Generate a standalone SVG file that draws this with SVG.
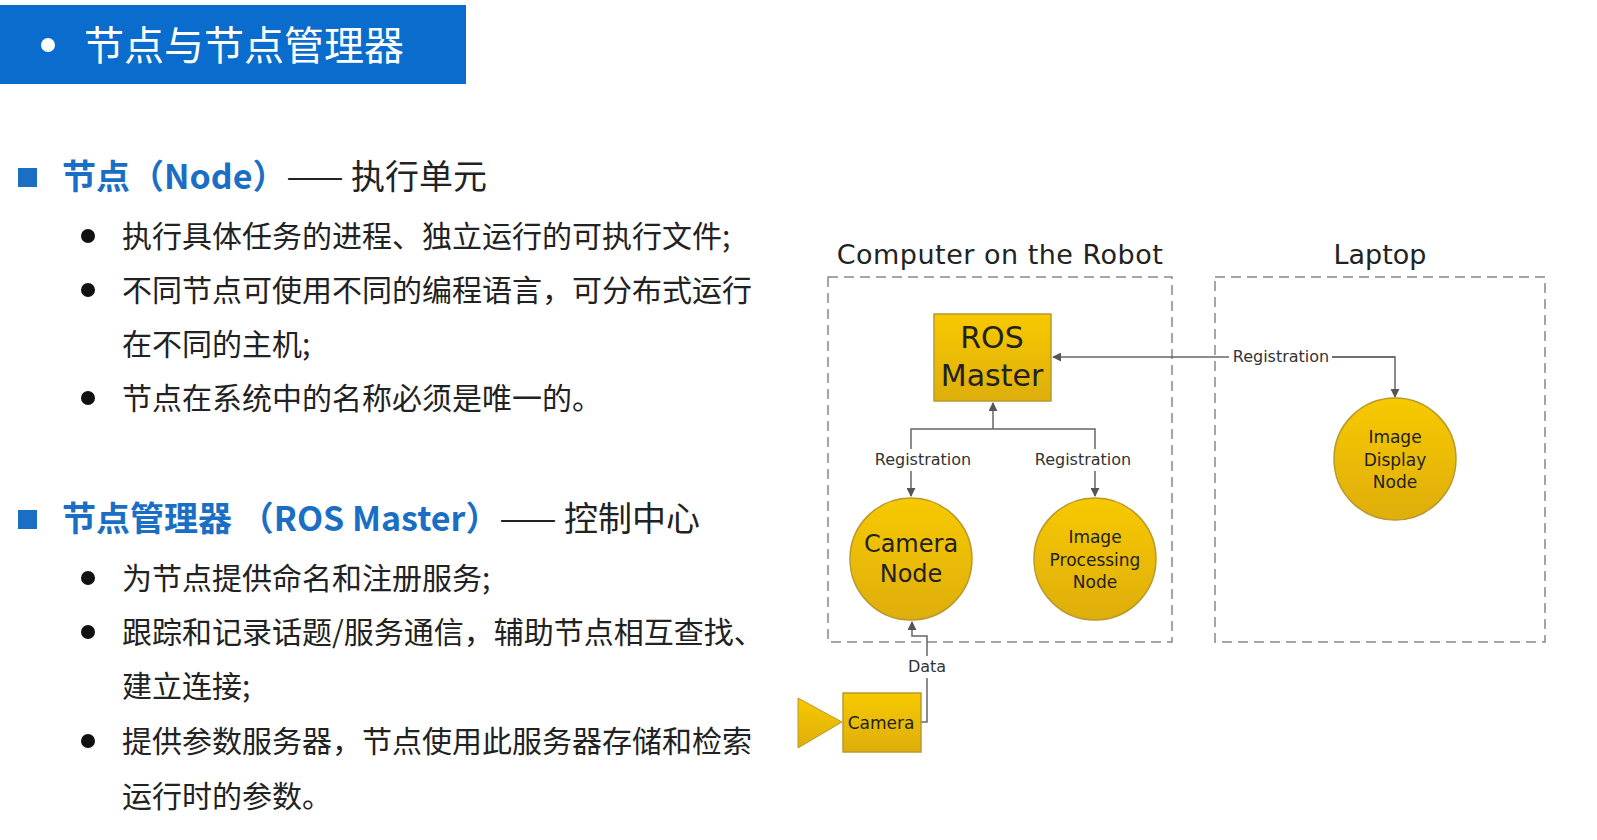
<svg xmlns="http://www.w3.org/2000/svg" width="1597" height="840" viewBox="0 0 1597 840">
<defs>
<linearGradient id="g" x1="0" y1="0" x2="0" y2="1"><stop offset="0" stop-color="#f7c900"/><stop offset="1" stop-color="#deae0c"/></linearGradient>
<marker id="a" viewBox="0 0 10 10" refX="9" refY="5" markerWidth="9" markerHeight="9" orient="auto" markerUnits="userSpaceOnUse"><path d="M0,0 L10,5 L0,10 z" fill="#555"/></marker>
</defs>
<style>
.cn{font-family:"Noto Sans CJK SC","Noto Sans",sans-serif;}
.b{font-size:30px;fill:#222;}
.h{font-size:34px;font-weight:bold;fill:#1a6fc4;}
.d{font-family:"DejaVu Sans","Noto Sans",sans-serif;fill:#222;text-anchor:middle;}
.n{fill:url(#g);stroke:#b89a2a;stroke-width:1.5;}
.c{fill:none;stroke:#666;stroke-width:1.5;}
.dash{fill:none;stroke:#888;stroke-width:1.5;stroke-dasharray:10,6;}
.l{font-family:"DejaVu Sans",sans-serif;font-size:16px;fill:#333;text-anchor:middle;}
</style>
<rect width="1597" height="840" fill="#fff"/>
<rect x="0" y="5" width="466" height="79" fill="#0a6ccc"/>
<circle cx="48" cy="45" r="7" fill="#fff"/>
<text x="84" y="60" class="cn" font-size="40" fill="#fff">节点与节点管理器</text>
<rect x="18" y="168" width="19" height="19" fill="#1a6fc4"/>
<text x="62" y="189" class="cn h">节点（Node）<tspan fill="#222" font-weight="normal">—— 执行单元</tspan></text>
<rect x="18" y="510" width="19" height="19" fill="#1a6fc4"/>
<text x="62" y="531" class="cn h">节点管理器 （ROS Master）<tspan fill="#222" font-weight="normal">—— 控制中心</tspan></text>
<g fill="#111"><circle cx="88" cy="236" r="7"/><circle cx="88" cy="290" r="7"/><circle cx="88" cy="398" r="7"/><circle cx="88" cy="578" r="7"/><circle cx="88" cy="632" r="7"/><circle cx="88" cy="741" r="7"/></g>
<g class="cn b">
<text x="122" y="247">执行具体任务的进程、独立运行的可执行文件;</text>
<text x="122" y="301">不同节点可使用不同的编程语言，可分布式运行</text>
<text x="122" y="355">在不同的主机;</text>
<text x="122" y="409">节点在系统中的名称必须是唯一的。</text>
<text x="122" y="589">为节点提供命名和注册服务;</text>
<text x="122" y="643">跟踪和记录话题/服务通信，辅助节点相互查找、</text>
<text x="122" y="697">建立连接;</text>
<text x="122" y="752">提供参数服务器，节点使用此服务器存储和检索</text>
<text x="122" y="807">运行时的参数。</text>
</g>
<text x="1000" y="264" class="d" font-size="27" letter-spacing="0.5">Computer on the Robot</text>
<text x="1380" y="264" class="d" font-size="27">Laptop</text>
<rect x="828" y="277" width="344" height="365" class="dash"/>
<rect x="1215" y="277" width="330" height="365" class="dash"/>
<g id="connectors">
<path class="c" d="M1395,357 H1053" marker-end="url(#a)"/>
<path class="c" d="M1230,357 H1395 V397" marker-end="url(#a)"/>
<rect x="1229" y="346" width="103" height="20" fill="#fff"/>
<text x="1281" y="362" class="l">Registration</text>
<path class="c" d="M993,429 V403" marker-end="url(#a)"/>
<path class="c" d="M993,429 H911 V496" marker-end="url(#a)"/>
<path class="c" d="M993,429 H1095 V496" marker-end="url(#a)"/>
<rect x="870" y="449" width="105" height="22" fill="#fff"/>
<text x="923" y="465" class="l">Registration</text>
<rect x="1031" y="449" width="105" height="22" fill="#fff"/>
<text x="1083" y="465" class="l">Registration</text>
<path class="c" d="M921,722 H927 V636 H912 V622" marker-end="url(#a)"/>
<rect x="907" y="656" width="40" height="22" fill="#fff"/>
<text x="927" y="672" class="l">Data</text>
</g>
<g id="ros-master"><rect x="934" y="314" width="117" height="87" class="n"/><text x="992" y="348" class="d" font-size="30">ROS</text><text x="992" y="386" class="d" font-size="30">Master</text></g>
<g id="camera-node"><circle cx="911" cy="559" r="61" class="n"/><text x="911" y="552" class="d" font-size="24">Camera</text><text x="911" y="582" class="d" font-size="24">Node</text></g>
<g id="image-processing-node"><circle cx="1095" cy="559" r="61" class="n"/><text x="1095" y="543" class="d" font-size="17">Image</text><text x="1095" y="566" class="d" font-size="17">Processing</text><text x="1095" y="588" class="d" font-size="17">Node</text></g>
<g id="image-display-node"><circle cx="1395" cy="459" r="61" class="n"/><text x="1395" y="443" class="d" font-size="17">Image</text><text x="1395" y="466" class="d" font-size="17">Display</text><text x="1395" y="488" class="d" font-size="17">Node</text></g>
<g id="camera"><path d="M798,698 L842,722 L798,748 z" fill="url(#g)" stroke="#b89a2a"/><rect x="843" y="693" width="78" height="59" class="n"/><text x="881" y="729" class="d" font-size="17">Camera</text></g>
</svg>
